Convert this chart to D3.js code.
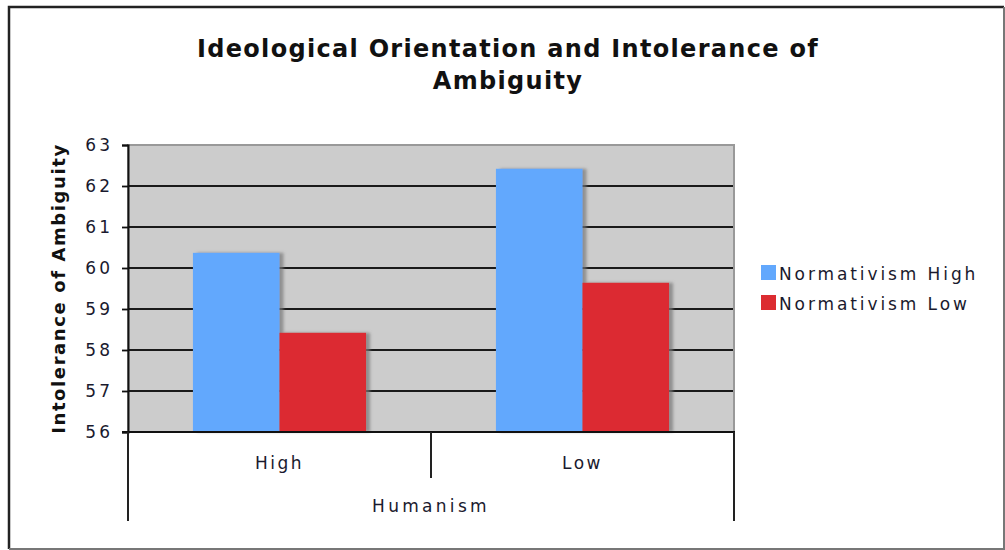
<!DOCTYPE html>
<html>
<head>
<meta charset="utf-8">
<script src="https://cdn.jsdelivr.net/npm/d3@7"></script>
<style>
  body { margin: 0; background: #fff; }
  svg { display: block; font-family: "DejaVu Sans", Verdana, sans-serif; }
</style>
</head>
<body>
<svg id="chart" width="1005" height="550"></svg>
<script>
const categories = ["High", "Low"];
const series = ["Normativism High", "Normativism Low"];
const normHigh = [60.37, 62.42];
const normLow = [58.42, 59.64];
const yTicks = [56, 57, 58, 59, 60, 61, 62, 63];
const colors = ["#62a8fd", "#dc2c31"];

const svg = d3.select("#chart");
const plotLeft = 128, plotRight = 734, plotTop = 145, plotBottom = 432;

// outer frame
svg.append("path").attr("d", "M9,549 V7 H1004").attr("fill", "none").attr("stroke", "#222").attr("stroke-width", 2.5);
svg.append("path").attr("d", "M9,549 H1004 V7").attr("fill", "none").attr("stroke", "#777").attr("stroke-width", 2);

const defs = svg.append("defs");
defs.append("filter").attr("id", "shadow").attr("x", "-10%").attr("y", "-10%").attr("width", "130%").attr("height", "120%")
  .append("feDropShadow").attr("dx", 4).attr("dy", 0).attr("stdDeviation", 1.5)
  .attr("flood-color", "#777").attr("flood-opacity", 0.7);

const x0 = d3.scaleBand().domain(categories).range([plotLeft, plotRight]);
const x1 = d3.scaleBand().domain(series).range([0, x0.bandwidth()]).paddingOuter(0.75);
const y = d3.scaleLinear().domain([56, 63]).range([plotBottom, plotTop]);

// plot background
svg.append("rect").attr("x", plotLeft).attr("y", plotTop).attr("width", plotRight - plotLeft).attr("height", plotBottom - plotTop)
  .attr("fill", "#cccccc").attr("stroke", "#999").attr("stroke-width", 2);

// gridlines
svg.append("g").selectAll("line").data(yTicks.filter(d => d > 56 && d < 63)).join("line")
  .attr("x1", plotLeft).attr("x2", plotRight - 1).attr("y1", d => y(d)).attr("y2", d => y(d))
  .attr("stroke", "#1a1a1a").attr("stroke-width", 1.8);

// bars
const rows = categories.map((c, i) => ({ cat: c, values: [normHigh[i], normLow[i]] }));
svg.append("g").selectAll("g").data(rows).join("g")
  .attr("transform", d => `translate(${x0(d.cat)},0)`)
  .selectAll("rect").data(d => d.values.map((v, j) => ({ s: series[j], v, j }))).join("rect")
  .attr("x", d => x1(d.s)).attr("width", x1.bandwidth())
  .attr("y", d => y(d.v)).attr("height", d => y(56) - y(d.v))
  .attr("fill", d => colors[d.j]).attr("filter", "url(#shadow)");

// y axis
const yAxis = svg.append("g").attr("transform", `translate(${plotLeft},0)`)
  .call(d3.axisLeft(y).tickValues(yTicks).tickSize(6).tickPadding(9).tickFormat(d3.format("d")));
yAxis.select(".domain").attr("stroke", "#111").attr("stroke-width", 2);
yAxis.selectAll(".tick line").attr("stroke", "#111").attr("stroke-width", 1.8);
yAxis.selectAll(".tick text").attr("font-size", 17).attr("letter-spacing", 3).attr("fill", "#1a1a2e")
  .attr("font-family", "DejaVu Sans");

// bottom axis and category dividers
svg.append("line").attr("x1", plotLeft - 6).attr("x2", plotRight + 1).attr("y1", plotBottom).attr("y2", plotBottom)
  .attr("stroke", "#111").attr("stroke-width", 2);
const edges = [plotLeft, ...categories.slice(1).map(c => x0(c)), plotRight];
svg.append("g").selectAll("line").data(edges).join("line")
  .attr("x1", d => d).attr("x2", d => d).attr("y1", plotBottom)
  .attr("y2", (d, i) => (i === 0 || i === edges.length - 1) ? 521 : 478)
  .attr("stroke", "#222").attr("stroke-width", 2);

svg.append("g").selectAll("text").data(categories).join("text")
  .attr("x", d => x0(d) + x0.bandwidth() / 2).attr("y", 469)
  .attr("text-anchor", "middle").attr("font-size", 17).attr("letter-spacing", 2.5).attr("fill", "#1a1a2e")
  .text(d => d);

svg.append("text").attr("x", (plotLeft + plotRight) / 2).attr("y", 512).attr("text-anchor", "middle")
  .attr("font-size", 17).attr("letter-spacing", 3.3).attr("fill", "#1a1a2e").text("Humanism");

// y title
svg.append("text").attr("transform", `translate(65,${(plotTop + plotBottom) / 2}) rotate(-90)`)
  .attr("text-anchor", "middle").attr("font-size", 18).attr("font-weight", "bold").attr("letter-spacing", 1.6)
  .attr("fill", "#111").text("Intolerance of Ambiguity");

// title
const title = svg.append("text").attr("text-anchor", "middle").attr("font-size", 24)
  .attr("font-weight", "bold").attr("letter-spacing", 1.3).attr("fill", "#111");
title.append("tspan").attr("x", 508).attr("y", 57).text("Ideological Orientation and Intolerance of");
title.append("tspan").attr("x", 508).attr("y", 89).text("Ambiguity");

// legend
const lg = svg.append("g").attr("transform", "translate(761,265)");
const li = lg.selectAll("g").data(series).join("g").attr("transform", (d, i) => `translate(0,${i * 30})`);
li.append("rect").attr("width", 15).attr("height", 15).attr("fill", (d, i) => colors[i]);
li.append("text").attr("x", 18).attr("y", 15).attr("font-size", 17).attr("letter-spacing", 2.9)
  .attr("fill", "#1a1a2e").text(d => d);
</script>
</body>
</html>
